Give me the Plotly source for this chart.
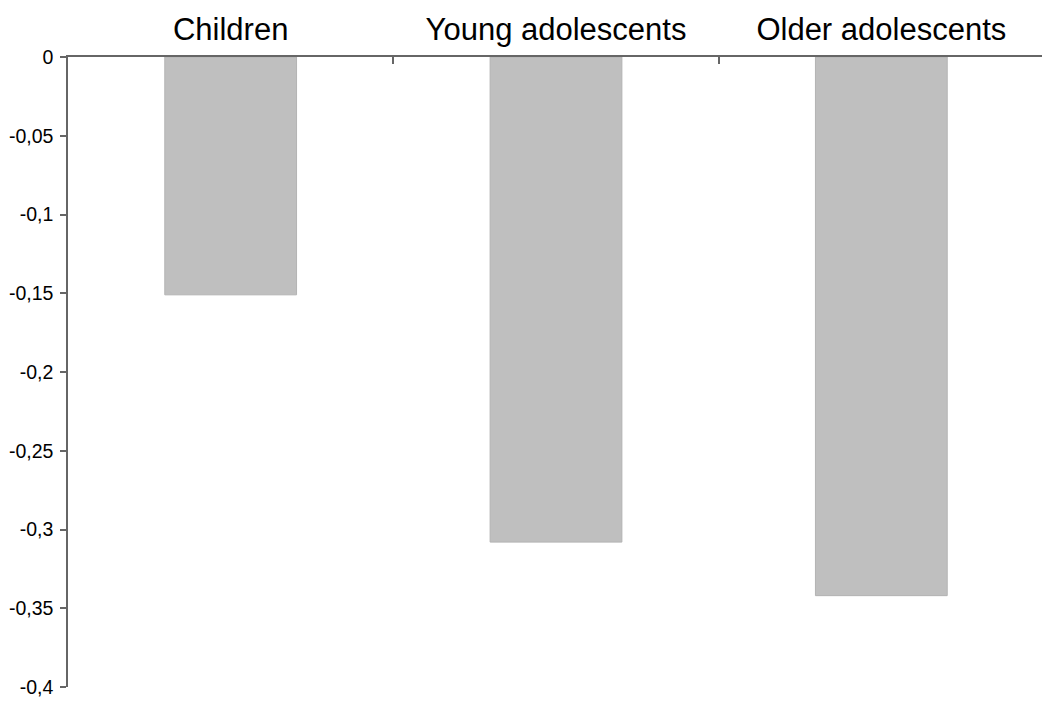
import plotly.graph_objects as go

categories = ["Children", "Young adolescents", "Older adolescents"]
values = [-0.151, -0.308, -0.342]
y_tick_vals = [0, -0.05, -0.1, -0.15, -0.2, -0.25, -0.3, -0.35, -0.4]
y_tick_text = ["0", "-0,05", "-0,1", "-0,15", "-0,2", "-0,25", "-0,3", "-0,35", "-0,4"]

fig = go.Figure(
    go.Bar(
        x=categories,
        y=values,
        width=0.405,
        marker=dict(color="#bfbfbf", line=dict(color="#b3b3b3", width=1)),
    )
)

fig.update_layout(
    width=1050,
    height=706,
    margin=dict(l=60, r=14, t=49, b=27),
    paper_bgcolor="white",
    plot_bgcolor="white",
    font=dict(family="Liberation Sans, Arial, sans-serif", color="black"),
    showlegend=False,
)

fig.update_xaxes(
    side="top",
    type="category",
    automargin=False,
    showline=True,
    linecolor="#666666",
    linewidth=1.5,
    ticks="inside",
    tickson="boundaries",
    ticklen=7,
    tickwidth=1.5,
    tickcolor="#666666",
    tickfont=dict(size=31, color="black"),
    ticklabelstandoff=3,
    showgrid=False,
    zeroline=False,
    range=[-0.5, 2.5],
)

fig.update_yaxes(
    range=[-0.4, 0],
    automargin=False,
    tickvals=y_tick_vals,
    ticktext=y_tick_text,
    showline=True,
    linecolor="#666666",
    linewidth=1.5,
    ticks="outside",
    ticklen=6,
    tickwidth=1.5,
    tickcolor="#666666",
    tickfont=dict(size=19.5, color="black"),
    ticklabelstandoff=3,
    showgrid=False,
    zeroline=False,
)

fig.write_html("out.html")
